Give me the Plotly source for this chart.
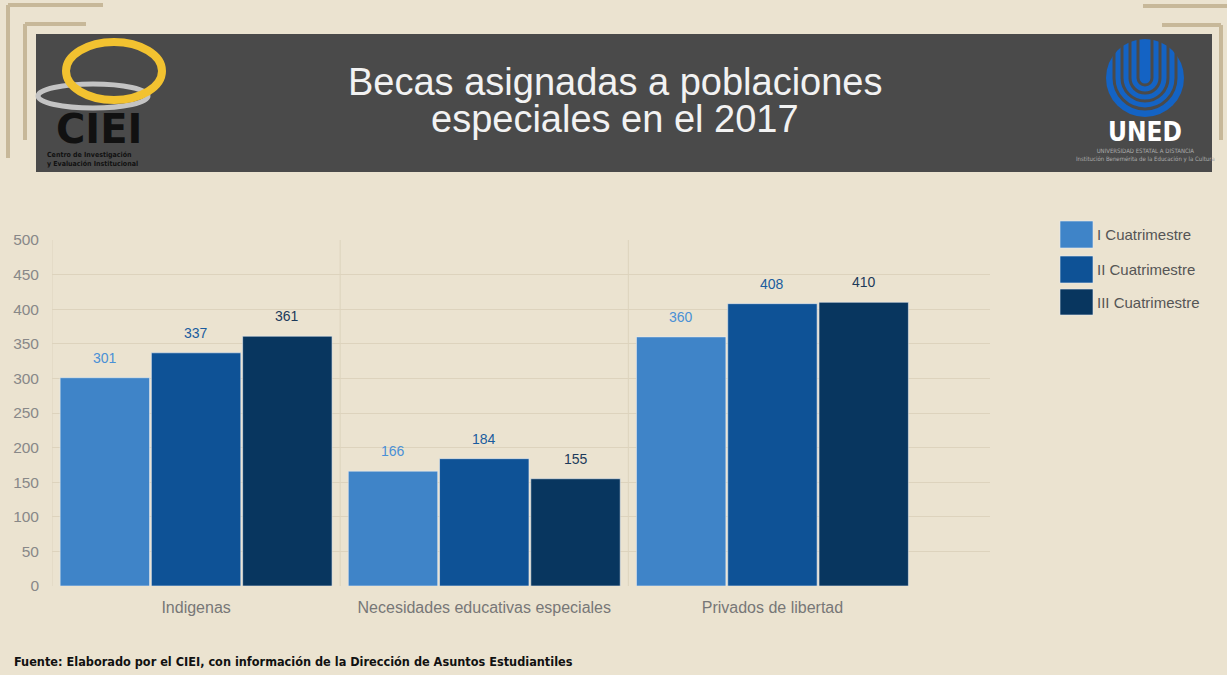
import plotly.graph_objects as go

categories = ["Indigenas", "Necesidades educativas especiales", "Privados de libertad"]
series_names = ["I Cuatrimestre", "II Cuatrimestre", "III Cuatrimestre"]
values_I = [301, 166, 360]
values_II = [337, 184, 408]
values_III = [361, 155, 410]
y_ticks = [0, 50, 100, 150, 200, 250, 300, 350, 400, 450, 500]

series_values = [values_I, values_II, values_III]
bar_colors = ["#3f84c8", "#0e5296", "#08365f"]
label_colors = ["#4a90d6", "#1a5c9e", "#1c3a5a"]

W, H = 1227, 675
ML, MR, MT, MB = 52, 237, 240, 89
PW, PH = W - ML - MR, H - MT - MB
BG = "#ebe3d0"
HEADER = "#4a4a4a"

def px(x):
    return (x - ML) / PW

def py(y):
    return (H - MB - y) / PH

fig = go.Figure()
BARGAP = 0.05
for name, vals, col in zip(series_names, series_values, bar_colors):
    fig.add_trace(go.Bar(
        name=name, x=categories, y=vals,
        marker=dict(color=col, line=dict(color="rgba(230,235,240,0.6)", width=1)),
        showlegend=False, hoverinfo="x+y+name"))

shapes = []
annotations = []

# header band
shapes.append(dict(type="rect", xref="paper", yref="paper",
                   x0=px(36), x1=px(1212), y0=py(172), y1=py(34),
                   fillcolor=HEADER, line=dict(width=0), layer="below"))
# decorative frame lines
frame_col = "#c7b899"
for (x0, y0, x1, y1) in [(8, 5, 103, 5), (8, 5, 8, 158), (25, 24, 86, 24), (25, 24, 25, 140),
                         (1143, 6, 1227, 6), (1162, 25, 1221, 25), (1221, 25, 1221, 140)]:
    shapes.append(dict(type="line", xref="paper", yref="paper",
                       x0=px(x0), y0=py(y0), x1=px(x1), y1=py(y1),
                       line=dict(color=frame_col, width=4), layer="below"))

# CIEI logo approximation
shapes.append(dict(type="circle", xref="paper", yref="paper",
                   x0=px(38), x1=px(148), y0=py(108), y1=py(84),
                   line=dict(color="#c4c4c4", width=5)))
shapes.append(dict(type="circle", xref="paper", yref="paper",
                   x0=px(66), x1=px(162), y0=py(100), y1=py(42),
                   line=dict(color="#f2c230", width=8)))
annotations.append(dict(text="<b>CIEI</b>", xref="paper", yref="paper", x=px(99), y=py(129),
                        showarrow=False, font=dict(family="DejaVu Sans", size=40, color="#111111"),
                        xanchor="center", yanchor="middle"))
annotations.append(dict(text="<b>Centro de Investigación<br>y Evaluación Institucional</b>",
                        xref="paper", yref="paper", x=px(92), y=py(159), showarrow=False,
                        font=dict(family="Liberation Sans Narrow, DejaVu Sans Condensed", size=7, color="#111111"),
                        xanchor="center", yanchor="middle", align="left"))

# UNED logo approximation
cx, cy, R = 1145, 78, 39
shapes.append(dict(type="circle", xref="paper", yref="paper",
                   x0=px(cx - R), x1=px(cx + R), y0=py(cy + R), y1=py(cy - R),
                   fillcolor="#1463c4", line=dict(width=0)))
k = 0.552
for r in [31, 23, 15, 7]:
    top = cy - R - 2
    path = f"M {px(cx - r)},{py(top)} L {px(cx - r)},{py(cy)} "
    path += (f"C {px(cx - r)},{py(cy + k * r)} {px(cx - k * r)},{py(cy + r)} {px(cx)},{py(cy + r)} "
             f"C {px(cx + k * r)},{py(cy + r)} {px(cx + r)},{py(cy + k * r)} {px(cx + r)},{py(cy)} "
             f"L {px(cx + r)},{py(top)}")
    shapes.append(dict(type="path", xref="paper", yref="paper", path=path,
                       line=dict(color=HEADER, width=3)))
annotations.append(dict(text="<b>UNED</b>", xref="paper", yref="paper", x=px(cx), y=py(132),
                        showarrow=False, font=dict(family="Liberation Sans Narrow, DejaVu Sans Condensed", size=26, color="#ffffff"),
                        xanchor="center", yanchor="middle"))
annotations.append(dict(text="UNIVERSIDAD ESTATAL A DISTANCIA<br>Institución Benemérita de la Educación y la Cultura",
                        xref="paper", yref="paper", x=px(cx), y=py(155), showarrow=False,
                        font=dict(family="Liberation Sans Narrow, DejaVu Sans Condensed", size=6, color="#aaaaaa"),
                        xanchor="center", yanchor="middle", align="center"))

# title (two lines, tight spacing)
for line, yc in [("Becas asignadas a poblaciones", 82), ("especiales en el 2017", 119)]:
    annotations.append(dict(text=line, xref="paper", yref="paper", x=px(615), y=py(yc), showarrow=False,
                            font=dict(family="Liberation Sans", size=38, color="#f2f2f2"),
                            xanchor="center", yanchor="middle"))

# category separators
for xv in [-0.5, 0.5, 1.5]:
    shapes.append(dict(type="line", xref="x", yref="y", x0=xv, x1=xv, y0=0, y1=500,
                       line=dict(color="#ddd3bd", width=1), layer="below"))

# data labels
step = (1 - BARGAP) / 3
for i, (vals, lc) in enumerate(zip(series_values, label_colors)):
    for j, v in enumerate(vals):
        annotations.append(dict(text=str(v), xref="x", yref="y", x=j + (i - 1) * step, y=v,
                                yshift=10, showarrow=False, xanchor="center", yanchor="bottom",
                                font=dict(family="Liberation Sans", size=14, color=lc)))

# legend (custom)
leg_y = [(221, 248), (256, 283), (289, 315)]
for (y0, y1), name, col in zip(leg_y, series_names, bar_colors):
    shapes.append(dict(type="rect", xref="paper", yref="paper",
                       x0=px(1060), x1=px(1093), y0=py(y1), y1=py(y0),
                       fillcolor=col, line=dict(color="rgba(230,235,240,0.6)", width=1)))
    annotations.append(dict(text=name, xref="paper", yref="paper", x=px(1095), y=py((y0 + y1) / 2),
                            showarrow=False, xanchor="left", yanchor="middle",
                            font=dict(family="Liberation Sans", size=15, color="#555555")))

# footer
annotations.append(dict(text="<b>Fuente: Elaborado por el CIEI, con información de la Dirección de Asuntos Estudiantiles</b>",
                        xref="paper", yref="paper", x=px(12), y=py(661), showarrow=False,
                        xanchor="left", yanchor="middle",
                        font=dict(family="Liberation Sans Narrow, DejaVu Sans Condensed", size=12.6, color="#111111")))

fig.update_layout(
    width=W, height=H,
    paper_bgcolor=BG, plot_bgcolor=BG,
    margin=dict(l=ML, r=MR, t=MT, b=MB, autoexpand=False),
    barmode="group", bargap=BARGAP, bargroupgap=0.02,
    shapes=shapes, annotations=annotations,
    font=dict(family="Liberation Sans", color="#777777"),
)
fig.update_xaxes(range=[-0.5, 2.755], showgrid=False, zeroline=False, showline=False,
                 tickfont=dict(size=16, color="#777777"), ticks="", ticklabelstandoff=10)
fig.update_yaxes(range=[0, 500], tickvals=y_ticks, showgrid=True, gridcolor="#ddd3bd", gridwidth=1,
                 zeroline=False, showline=False, tickfont=dict(size=15.5, color="#888888"),
                 ticks="", ticklabelstandoff=12)

fig.write_html("out.html", config={"displayModeBar": False},
               post_script="document.body.style.margin='0';")
